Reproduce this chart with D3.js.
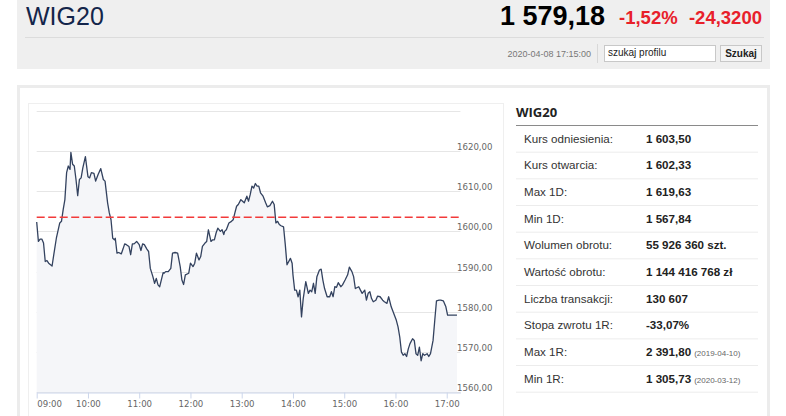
<!DOCTYPE html>
<html>
<head>
<meta charset="utf-8">
<script src="https://cdn.jsdelivr.net/npm/d3@7"></script>
<style>
  html, body { margin: 0; padding: 0; background: #fff; }
  svg { display: block; font-family: "Liberation Sans", Arial, sans-serif; }
</style>
</head>
<body>
<svg id="page" width="786" height="416"></svg>
<script>
// intraday WIG20, minutes after 09:00
var minutes = [0, 2, 4, 6, 8, 10, 12, 14, 18, 20, 23, 27, 29, 31, 33, 35, 37, 39, 40, 42, 44, 46, 48, 50, 52, 54, 57, 60,
  62, 64, 67, 69, 72, 75, 78, 80, 83, 85, 87, 89, 91, 92, 94, 96, 99, 101, 103, 105, 108, 110, 112, 114, 117, 120,
  122, 124, 126, 129, 131, 133, 136, 138, 140, 142, 144, 148, 149, 151, 154, 157, 159, 162, 165, 168, 170, 172, 174,
  178, 180, 183, 185, 187, 190, 192, 194, 197, 199, 201, 204, 206, 208, 210, 212, 215, 217, 219, 220, 222, 225, 228,
  230, 232, 234, 236, 239, 241, 243, 246, 248, 250, 252, 254, 256, 258, 260, 262, 265, 268, 270, 273, 276, 278, 280,
  282, 284, 286, 289, 291, 293, 297, 299, 300, 302, 304, 306, 308, 310, 312, 315, 318, 320, 322, 324, 326, 328, 331,
  333, 335, 337, 340, 343, 345, 347, 349, 351, 353, 356, 358, 361, 364, 366, 369, 371, 373, 377, 379, 381, 384, 386,
  388, 390, 392, 394, 397, 399, 402, 405, 407, 410, 412, 415, 418, 421, 423, 425, 427, 429, 431, 433, 435, 437, 440,
  442, 444, 446, 448, 450, 452, 454, 457, 459, 461, 464, 466, 468, 471, 473, 476, 479, 481, 483, 486, 492, 496];

var prices = [1602.33, 1597.5, 1598.1, 1598.1, 1597.1, 1592.5, 1592.75, 1592.1, 1591.4, 1594.2, 1598.3, 1602.1, 1602.5,
  1605.4, 1607.9, 1614.6, 1616.25, 1615.4, 1619.63, 1616.7, 1616.25, 1612.9, 1608.9, 1612.9, 1613.3, 1615.8, 1618.6,
  1613.6, 1613.3, 1614.6, 1614.4, 1612.5, 1614.2, 1615.6, 1612.9, 1612.5, 1607.1, 1604.6, 1602.9, 1598.3, 1597.9,
  1598.3, 1594.6, 1594.75, 1594.4, 1595.6, 1596.9, 1596.7, 1596.25, 1594.2, 1596.9, 1596.9, 1597.5, 1596.7, 1595.25,
  1596.9, 1596.7, 1595.6, 1595.0, 1590.8, 1588.75, 1587.1, 1588.3, 1586.7, 1586.25, 1589.75, 1589.6, 1590.0, 1590.0,
  1590.8, 1594.6, 1594.75, 1594.6, 1591.25, 1587.9, 1586.8, 1589.2, 1589.6, 1592.1, 1591.25, 1592.1, 1594.6, 1592.9,
  1593.75, 1596.25, 1597.1, 1597.5, 1600.4, 1597.5, 1597.9, 1597.9, 1599.6, 1600.8, 1600.0, 1600.4, 1599.2, 1600.0,
  1600.4, 1602.1, 1602.5, 1602.9, 1604.6, 1606.25, 1606.7, 1607.9, 1607.5, 1607.1, 1608.75, 1607.5, 1609.2, 1611.25,
  1610.8, 1611.9, 1611.25, 1611.25, 1609.6, 1608.75, 1607.1, 1606.1, 1606.4, 1607.5, 1606.7, 1602.1, 1602.5, 1601.7,
  1601.4, 1601.1, 1596.7, 1591.7, 1593.3, 1592.1, 1589.2, 1585.4, 1585.4, 1583.75, 1585.4, 1578.75, 1583.3, 1587.5,
  1584.6, 1585.4, 1585.0, 1587.1, 1584.6, 1588.75, 1590.4, 1590.6, 1587.9, 1585.8, 1583.75, 1583.75, 1585.0, 1583.75,
  1586.25, 1586.1, 1587.25, 1586.25, 1586.7, 1587.9, 1589.2, 1591.1, 1590.0, 1588.75, 1585.8, 1586.25, 1585.4, 1584.6,
  1585.4, 1582.9, 1584.6, 1585.0, 1583.3, 1582.5, 1582.9, 1583.9, 1583.75, 1582.9, 1582.5, 1582.1, 1583.75, 1581.25,
  1579.6, 1577.9, 1576.25, 1573.75, 1570.0, 1569.2, 1569.6, 1568.9, 1570.8, 1572.1, 1573.3, 1572.9, 1569.6, 1569.2,
  1571.25, 1567.84, 1569.6, 1569.2, 1569.6, 1568.9, 1569.6, 1572.9, 1577.9, 1582.75, 1582.9, 1582.9, 1582.75, 1581.25,
  1579.2, 1579.2, 1579.18, 1579.18];

var referencePrice = 1603.50;
var yTicks = [1560, 1570, 1580, 1590, 1600, 1610, 1620, 1630];

var statLabels = ["Kurs odniesienia:", "Kurs otwarcia:", "Max 1D:", "Min 1D:", "Wolumen obrotu:",
  "Wartość obrotu:", "Liczba transakcji:", "Stopa zwrotu 1R:", "Max 1R:", "Min 1R:"];
var statValues = ["1 603,50", "1 602,33", "1 619,63", "1 567,84", "55 926 360 szt.",
  "1 144 416 768 zł", "130 607", "-33,07%", "2 391,80", "1 305,73"];
var statNotes = ["", "", "", "", "", "", "", "", "(2019-04-10)", "(2020-03-12)"];

var svg = d3.select("#page");

// header
svg.append("rect").attr("x", 17).attr("y", 0).attr("width", 753).attr("height", 69).attr("fill", "#efefef");
svg.append("line").attr("x1", 25).attr("x2", 764).attr("y1", 37.5).attr("y2", 37.5)
  .attr("stroke", "#dcdcdc");
svg.append("text").attr("x", 26).attr("y", 25).text("WIG20")
  .style("font-size", "25px").style("fill", "#13254a");
svg.append("text").attr("x", 605).attr("y", 25).attr("text-anchor", "end").text("1 579,18")
  .style("font-size", "27px").style("font-weight", "bold").style("fill", "#000");
svg.append("text").attr("x", 619).attr("y", 24).text("-1,52%")
  .style("font-size", "18.5px").style("font-weight", "bold").style("fill", "#e8202a");
svg.append("text").attr("x", 762).attr("y", 24).attr("text-anchor", "end").text("-24,3200")
  .style("font-size", "18.5px").style("font-weight", "bold").style("fill", "#e8202a");

svg.append("text").attr("x", 591).attr("y", 56.5).attr("text-anchor", "end").text("2020-04-08 17:15:00")
  .style("font-size", "9px").style("fill", "#777");
svg.append("line").attr("x1", 597.5).attr("x2", 597.5).attr("y1", 44).attr("y2", 63).attr("stroke", "#d8d8d8");
svg.append("rect").attr("x", 604.5).attr("y", 45.5).attr("width", 111).attr("height", 16)
  .attr("fill", "#fff").attr("stroke", "#c8c8c8");
svg.append("text").attr("x", 608).attr("y", 56).text("szukaj profilu")
  .style("font-size", "10px").style("fill", "#222");
svg.append("rect").attr("x", 720.5).attr("y", 45.5).attr("width", 41).attr("height", 16)
  .attr("fill", "#f4f4f4").attr("stroke", "#c8c8c8");
svg.append("text").attr("x", 741).attr("y", 57).attr("text-anchor", "middle").text("Szukaj")
  .style("font-size", "10px").style("font-weight", "bold").style("fill", "#222");

// panels
svg.append("rect").attr("x", 18.5).attr("y", 86.5).attr("width", 750).attr("height", 340)
  .attr("fill", "#fff").attr("stroke", "#ececec").attr("stroke-width", 3);
svg.append("rect").attr("x", 28.5).attr("y", 103.5).attr("width", 475).attr("height", 320)
  .attr("fill", "#fff").attr("stroke", "#efefef");

// chart
var parseBase = new Date(2020, 3, 8, 9, 0);
var dates = minutes.map(function(m) { return d3.timeMinute.offset(parseBase, m); });

var x = d3.scaleTime()
  .domain([parseBase, d3.timeMinute.offset(parseBase, 496)])
  .range([36.7, 460.4]);
var y = d3.scaleLinear().domain([1560, 1630]).range([392.3, 110.7]);

var chart = svg.append("g");

chart.selectAll(".grid").data(yTicks).enter().append("line")
  .attr("x1", 36.7).attr("x2", 460.4)
  .attr("y1", function(d) { return Math.round(y(d)) + 0.5; })
  .attr("y2", function(d) { return Math.round(y(d)) + 0.5; })
  .attr("stroke", "#e6e6e6");

var pts = d3.zip(dates, prices);

var area = d3.area()
  .x(function(d) { return x(d[0]); })
  .y0(y(1560))
  .y1(function(d) { return y(d[1]); });
chart.append("path").attr("d", area(pts)).attr("fill", "#f5f6f9");

var line = d3.line()
  .x(function(d) { return x(d[0]); })
  .y(function(d) { return y(d[1]); });
chart.append("path").attr("d", line(pts))
  .attr("fill", "none").attr("stroke", "#33425f").attr("stroke-width", 1.3)
  .attr("stroke-linejoin", "round");

chart.append("line")
  .attr("x1", 36.7).attr("x2", 460.4)
  .attr("y1", y(referencePrice)).attr("y2", y(referencePrice))
  .attr("stroke", "#f23a3a").attr("stroke-width", 1.5).attr("stroke-dasharray", "8,3.5");

chart.selectAll(".ylab").data(yTicks.filter(function(d) { return d < 1630; })).enter().append("text")
  .attr("x", 457).attr("y", function(d) { return y(d) - 1; })
  .text(function(d) { return d3.format(".2f")(d).replace(".", ","); })
  .style("font-family", "'DejaVu Sans', sans-serif").style("font-size", "8.6px").style("fill", "#666");

var xAxis = d3.axisBottom(x)
  .ticks(d3.timeHour.every(1))
  .tickFormat(d3.timeFormat("%H:%M"))
  .tickSize(6).tickSizeOuter(0);

var ax = chart.append("g").attr("transform", "translate(0," + (Math.round(y(1560)) + 0.5) + ")").call(xAxis);
ax.select(".domain").attr("stroke", "#ccd6eb");
ax.selectAll(".tick line").attr("stroke", "#ccd6eb");
ax.selectAll(".tick text")
  .attr("dy", "0.75em").attr("y", 8)
  .style("font-family", "'DejaVu Sans', sans-serif").style("font-size", "8.6px").style("fill", "#666")
  .attr("text-anchor", function(d, i) { return i === 0 ? "start" : "middle"; });

// stats table
var table = svg.append("g");
table.append("text").attr("x", 516).attr("y", 117).text("WIG20")
  .style("font-family", "'Open Sans', sans-serif").style("font-size", "13px").style("font-weight", "bold")
  .style("fill", "#222");
table.append("line").attr("x1", 516).attr("x2", 758).attr("y1", 125.5).attr("y2", 125.5)
  .attr("stroke", "#8a8a8a");

var rowH = 26.67;
var rows = table.selectAll(".row").data(statLabels).enter().append("g")
  .attr("transform", function(d, i) { return "translate(0," + (125 + i * rowH) + ")"; });
rows.append("line").attr("x1", 516).attr("x2", 758)
  .attr("y1", rowH + 0.5).attr("y2", rowH + 0.5).attr("stroke", "#ececec");
rows.append("text").attr("x", 524).attr("y", 17.5).text(function(d) { return d; })
  .style("font-size", "11.6px").style("fill", "#333");
var vals = rows.append("text").attr("x", 646).attr("y", 17.5);
vals.append("tspan").text(function(d, i) { return statValues[i]; })
  .style("font-size", "11.6px").style("font-weight", "bold").style("fill", "#222");
vals.append("tspan").attr("dx", 3).text(function(d, i) { return statNotes[i]; })
  .style("font-size", "8px").style("fill", "#666");
</script>
</body>
</html>
